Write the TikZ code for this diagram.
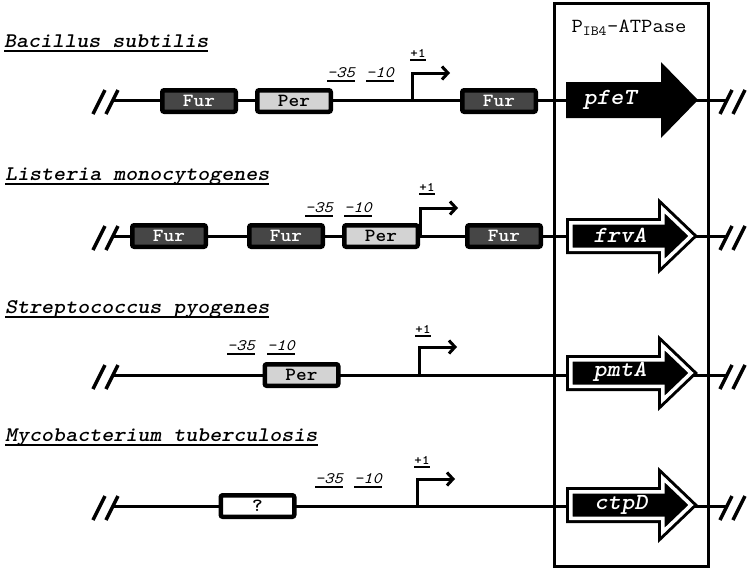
\documentclass[tikz,border=0pt]{standalone}
\usepackage{fontspec}
\usepackage{graphicx}
\usetikzlibrary{arrows.meta}

\definecolor{furgray}{HTML}{464646}
\definecolor{pergray}{HTML}{D3D3D3}

\newsavebox{\ulbox}
\newcommand{\wide}[1]{\scalebox{1.1}[1]{#1}}
\newcommand{\ulin}[2][-5pt]{\sbox{\ulbox}{\wide{#2}}\rlap{\rule[#1]{\wd\ulbox}{1.8pt}}\usebox{\ulbox}}

\newcommand{\titlefont}{\ttfamily\bfseries\itshape\fontsize{20.8}{24}\selectfont}
\newcommand{\sitefont}{\ttfamily\bfseries\fontsize{18.5}{20}\selectfont}
\newcommand{\genefont}{\ttfamily\bfseries\itshape\fontsize{23}{26}\selectfont}
\newcommand{\posfont}{\ttfamily\itshape\fontsize{16}{18}\selectfont}
\newcommand{\tssfont}{\ttfamily\bfseries\fontsize{13}{15}\selectfont}

\tikzset{
    site/.style={draw, line width=4.5pt, rounded corners=2pt, minimum width=73.5pt,
        minimum height=21.5pt, inner sep=0pt, font=\sitefont},
    dna/.style={line width=3pt},
    cutline/.style={line width=3.5pt},
    tss/.style={line width=3pt, -{Straight Barb[length=6pt,width=13pt]}},
    hollow/.style={draw=black, line width=3pt, double=white, double distance=3.5pt, fill=black},
    gene/.style={text=white, font=\genefont, inner sep=0pt},
    organism/.style={font=\titlefont, inner sep=0pt, anchor=base west},
    boxpos/.style={font=\posfont, inner sep=0pt, anchor=base},
    plus/.style={font=\tssfont, inner sep=0pt, anchor=base},
}

\newcommand{\fn}{\node[site, fill=furgray, text=white]}
\newcommand{\pn}{\node[site, fill=pergray]}
\newcommand{\qn}{\node[site, fill=white]}

\newcommand{\cuts}[2]{\draw[cutline] (#1,{#2+14}) -- ({#1+12},{#2-10}) ({#1+13},{#2+14}) -- ({#1+25},{#2-10});}
\newcommand{\solidgene}[1]{\fill (566,{#1-18}) -- (661,{#1-18}) -- (661,{#1-38}) -- (698,#1)
    -- (661,{#1+38}) -- (661,{#1+18}) -- (566,{#1+18}) -- cycle;}
\newcommand{\hollowgene}[1]{\draw[hollow] (570.75,{#1-13.25}) -- (662.75,{#1-13.25}) -- (662.75,{#1-27})
    -- (691,#1) -- (662.75,{#1+27}) -- (662.75,{#1+13.25}) -- (570.75,{#1+13.25}) -- cycle;}

\begin{document}
\begin{tikzpicture}[x=1pt, y=-1pt]
            \useasboundingbox (0,0) rectangle (750,570);

            \draw[line width=3pt] (554,3) rectangle (708,566);
            \node[font=\ttfamily\fontsize{20}{22}\selectfont, anchor=base, inner sep=0pt] (atp) at (629,32)
                {\wide{P\textsubscript{IB4}-ATPase}};

            \node[organism] (nB) at (4,47) {\ulin{Bacillus subtilis}};
            \node[organism] (nL) at (5,180) {\ulin{Listeria monocytogenes}};
            \node[organism] (nS) at (5,313) {\ulin{Streptococcus pyogenes}};
            \node[organism] (nM) at (5,441) {\ulin{Mycobacterium tuberculosis}};

            \coordinate (lB) at (113,100);
            \coordinate (rB) at (727,100);
            \coordinate (lL) at (113,236);
            \coordinate (rL) at (727,236);
            \coordinate (lS) at (113,375);
            \coordinate (rS) at (727,375);
            \coordinate (lM) at (113,506);
            \coordinate (rM) at (727,506);

            \draw[dna]
                (lB) -- (rB)
                (lL) -- (rL)
                (lS) -- (rS)
                (lM) -- (rM)
                ;

            \cuts{93}{100}
            \cuts{720}{100}
            \cuts{93}{236}
            \cuts{720}{236}
            \cuts{93}{375}
            \cuts{720}{375}
            \cuts{93}{506}
            \cuts{720}{506}

            \solidgene{100}
            \hollowgene{236}
            \hollowgene{373}
            \hollowgene{505}

            \node[gene] (gB) at (610,100) {\wide{pfeT}};
            \node[gene] (gL) at (620,235) {\wide{frvA}};
            \node[gene] (gS) at (620,372) {\wide{pmtA}};
            \node[gene] (gM) at (621,505) {\wide{ctpD}};

            \coordinate (tB) at (412,100);
            \coordinate (tBe) at (450,73);
            \coordinate (tL) at (420,236);
            \coordinate (tLe) at (458,208);
            \coordinate (tS) at (419,375);
            \coordinate (tSe) at (457,347);
            \coordinate (tM) at (417,506);
            \coordinate (tMe) at (455,479);

            \draw[tss]
                (tB) |- (tBe);
            \draw[tss]
                (tL) |- (tLe);
            \draw[tss]
                (tS) |- (tSe);
            \draw[tss]
                (tM) |- (tMe);

            \fn (b1) at (199,101) {\wide{Fur}};
            \pn (b2) at (294,101) {\wide{Per}};
            \fn (b3) at (499,101) {\wide{Fur}};

            \fn (l1) at (169,236) {\wide{Fur}};
            \fn (l2) at (286,236) {\wide{Fur}};
            \pn (l3) at (381,236) {\wide{Per}};
            \fn (l4) at (504,236) {\wide{Fur}};

            \pn (s1) at (301.5,375) {\wide{Per}};

            \qn (m1) at (257.5,506) {\wide{?}};

            \node[boxpos] (b35) at (341,77) {\ulin[-4.5pt]{-35}};
            \node[boxpos] (b10) at (380,77) {\ulin[-4.5pt]{-10}};
            \node[boxpos] (l35) at (319,212) {\ulin[-4.5pt]{-35}};
            \node[boxpos] (l10) at (358,212) {\ulin[-4.5pt]{-10}};
            \node[boxpos] (s35) at (241,350) {\ulin[-4.5pt]{-35}};
            \node[boxpos] (s10) at (281,350) {\ulin[-4.5pt]{-10}};
            \node[boxpos] (m35) at (329,483) {\ulin[-4.5pt]{-35}};
            \node[boxpos] (m10) at (368,483) {\ulin[-4.5pt]{-10}};

            \node[plus] (pB) at (418,57) {\ulin[-3.5pt]{+1}};
            \node[plus] (pL) at (427,191) {\ulin[-3.5pt]{+1}};
            \node[plus] (pS) at (423,333) {\ulin[-3.5pt]{+1}};
            \node[plus] (pM) at (422,464) {\ulin[-3.5pt]{+1}};

        \end{tikzpicture}
\end{document}
